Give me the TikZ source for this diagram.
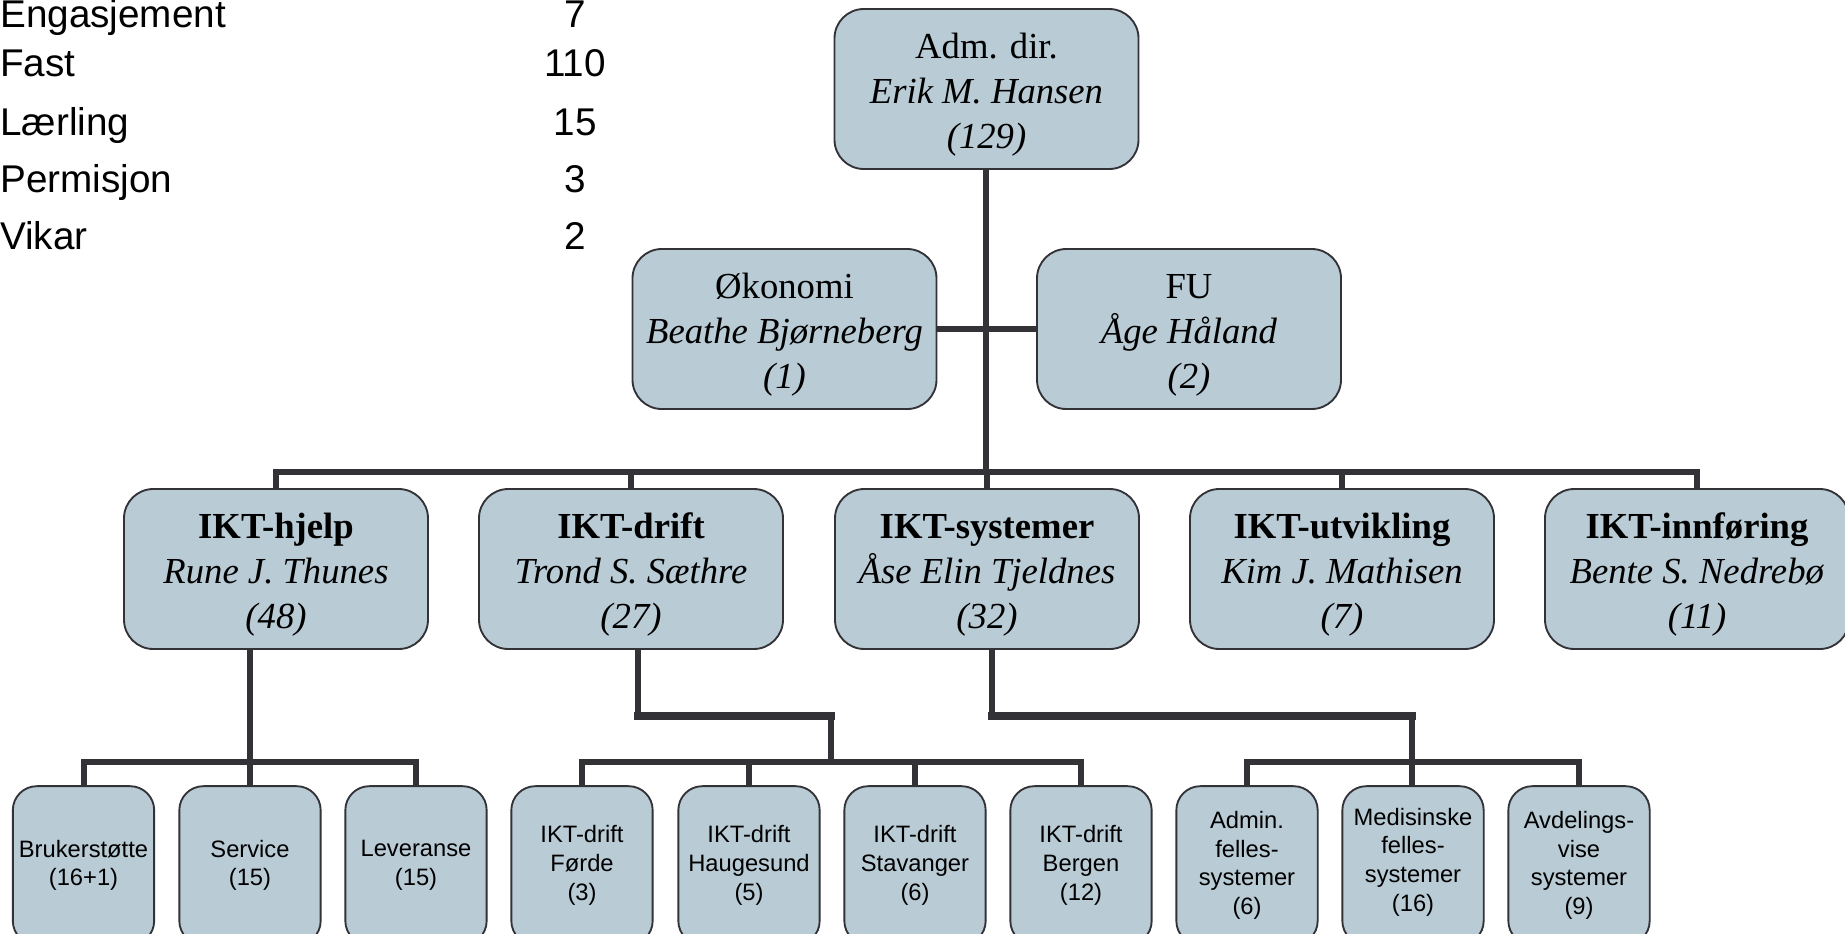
\documentclass[tikz,border=0pt]{standalone}
\usepackage{fontspec}
\setmainfont{Liberation Serif}
\setsansfont{Liberation Sans}
\definecolor{boxblue}{RGB}{185,203,213}
\definecolor{linegray}{RGB}{50,50,55}
\newcommand{\headstrut}{\rule{0pt}{28pt}}

\tikzset{
  unit/.style={draw=linegray, line width=1.4pt, fill=boxblue, rounded corners=22pt,
    minimum width=228pt, minimum height=120pt, inner sep=2pt, align=center,
    font=\fontsize{27.5}{33.75}\selectfont},
  group/.style={draw=linegray, line width=1.4pt, fill=boxblue, rounded corners=18pt,
    minimum width=106pt, minimum height=119pt, inner sep=1pt, align=center,
    font=\sffamily\fontsize{17.8}{21.5}\selectfont},
  tie/.style={draw=linegray, line width=4.5pt},
  thicktie/.style={draw=linegray, line width=6.2pt, line cap=rect},
  stat/.style={font=\sffamily\fontsize{29}{34}\selectfont, inner sep=0pt}
}

\begin{document}
\begin{tikzpicture}[x=0.75pt, y=-0.75pt]
        \clip (0,0) rectangle (1845,933);
        % staff numbers
        \node[stat, anchor=base west] (engL) at (0,27) {Engasjement};
        \node[stat, anchor=base] (engN) at (575,27) {7};
        \node[stat, anchor=base west] (fastL) at (0,76) {Fast};
        \node[stat, anchor=base] (fastN) at (575,76) {110};
        \node[stat, anchor=base west] (laerL) at (0,135) {Lærling};
        \node[stat, anchor=base] (laerN) at (575,135) {15};
        \node[stat, anchor=base west] (permL) at (0,192) {Permisjon};
        \node[stat, anchor=base] (permN) at (575,192) {3};
        \node[stat, anchor=base west] (vikL) at (0,249) {Vikar};
        \node[stat, anchor=base] (vikN) at (575,249) {2};
        % management
        \node[unit] (adm) at (986.5,89) {\headstrut Adm. dir.\\\textit{Erik M. Hansen}\\\textit{(129)}};
        \node[unit] (oko) at (784.5,329) {\headstrut Økonomi\\\textit{Beathe Bjørneberg}\\\textit{(1)}};
        \node[unit] (fu) at (1189,329) {\headstrut FU\\\textit{Åge Håland}\\\textit{(2)}};
        % departments
        \node[unit] (hjelp) at (276,569) {\headstrut\textbf{IKT-hjelp}\\\textit{Rune J. Thunes}\\\textit{(48)}};
        \node[unit] (drift) at (631,569) {\headstrut\textbf{IKT-drift}\\\textit{Trond S. Sæthre}\\\textit{(27)}};
        \node[unit] (sys) at (987,569) {\headstrut\textbf{IKT-systemer}\\\textit{Åse Elin Tjeldnes}\\\textit{(32)}};
        \node[unit] (utv) at (1342,569) {\headstrut\textbf{IKT-utvikling}\\\textit{Kim J. Mathisen}\\\textit{(7)}};
        \node[unit] (innf) at (1697,569) {\headstrut\textbf{IKT-innføring}\\\textit{Bente S. Nedrebø}\\\textit{(11)}};
        % sections
        \node[group] (brk) at (83.5,865.5) {Brukerstøtte\\(16+1)};
        \node[group] (srv) at (250,865.5) {Service\\(15)};
        \node[group] (lev) at (416,865.5) {Leveranse\\(15)};
        \node[group] (fde) at (582,865.5) {IKT-drift\\Førde\\(3)};
        \node[group] (hgs) at (749,865.5) {IKT-drift\\Haugesund\\(5)};
        \node[group] (svg) at (915,865.5) {IKT-drift\\Stavanger\\(6)};
        \node[group] (bgn) at (1081,865.5) {IKT-drift\\Bergen\\(12)};
        \node[group] (admf) at (1247,865.5) {Admin.\\felles-\\systemer\\(6)};
        \node[group] (medf) at (1413,865.5) {Medisinske\\felles-\\systemer\\(16)\rule[-9pt]{0pt}{0pt}};
        \node[group] (avdf) at (1579,865.5) {Avdelings-\\vise\\systemer\\(9)};
        % top lines
        \coordinate (trunk) at (986,472);
        \draw[tie] (adm.south -| trunk) -- (trunk);
        \draw[tie] (oko) -- (fu);
        \draw[tie] (hjelp.north) |- (trunk) -| (innf.north);
        \draw[tie] (drift.north) -- (drift.north |- trunk);
        \draw[tie] (sys.north) -- (sys.north |- trunk);
        \draw[tie] (utv.north) -- (utv.north |- trunk);
        % IKT-hjelp
        \coordinate (hjelpBus) at (250,762);
        \draw[tie] (hjelp.south -| hjelpBus) -- (hjelpBus);
        \draw[tie] (brk.north) |- (hjelpBus) -| (lev.north);
        \draw[tie] (srv.north) -- (hjelpBus);
        % IKT-drift
        \coordinate (driftKnee) at (831,716);
        \coordinate (driftBus) at (831,762);
        \draw[tie] ([xshift=5pt]drift.south) -- ([xshift=5pt]drift.south |- driftKnee);
        \draw[thicktie] ([xshift=5pt]drift.south |- driftKnee) -- (driftKnee);
        \draw[tie] (driftKnee) -- (driftBus);
        \draw[tie] (fde.north) |- (driftBus) -| (bgn.north);
        \draw[tie] (hgs.north) -- (hgs.north |- driftBus);
        \draw[tie] (svg.north) -- (svg.north |- driftBus);
        % IKT-systemer
        \coordinate (sysKnee) at (1412,716);
        \coordinate (sysBus) at (1412,762);
        \draw[tie] ([xshift=4pt]sys.south) -- ([xshift=4pt]sys.south |- sysKnee);
        \draw[thicktie] ([xshift=4pt]sys.south |- sysKnee) -- (sysKnee);
        \draw[tie] (sysKnee) -- (sysBus);
        \draw[tie] (admf.north) |- (sysBus) -| (avdf.north);
        \draw[tie] (sysBus) -- (sysBus |- medf.north);
\end{tikzpicture}
\end{document}
